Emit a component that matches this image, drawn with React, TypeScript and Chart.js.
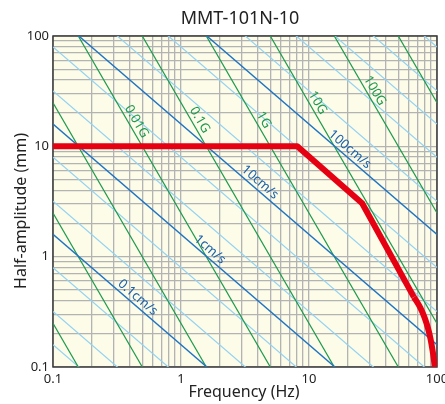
import React, { useEffect, useRef } from 'react';
import { Chart, registerables } from 'chart.js';
Chart.register(...registerables);

const chartTitle = 'MMT-101N-10';
const xAxisTitle = 'Frequency (Hz)';
const yAxisTitle = 'Half-amplitude (mm)';
const xDecades = [0.1, 1, 10, 100];
const yDecades = [0.1, 1, 10, 100];
const xTickLabels = ['0.1', '1', '10', '100'];
const yTickLabels = ['0.1', '1', '10', '100'];
const gridSteps = [1, 2, 3, 4, 5, 6, 7, 8, 9];

// acceleration lines (G) and velocity lines (cm/s)
const accelLinesG = [0.00001, 0.0001, 0.001, 0.01, 0.1, 1, 10, 100, 1000];
const velocityMainCm = [0.1, 1, 10, 100];
const velocityMinorCm = [0.01, 0.02, 0.05, 0.2, 0.5, 2, 5, 20, 50, 200, 500, 1000, 2000, 5000];

// performance limit curve: straight part, then rounded tail
const limitFreq = [0.1, 8.1, 26, 66];
const limitAmp = [10, 10, 3.05, 0.43];
const tailFreq = [66, 74, 80, 85, 89, 92, 94.3, 96];
const tailAmp = [0.43, 0.345, 0.28, 0.225, 0.18, 0.145, 0.12, 0.1];

// labels on the lines
const accelLabelText = ['0.01G', '0.1G', '1G', '10G', '100G'];
const accelLabelG = [0.01, 0.1, 1, 10, 100];
const accelLabelFreq = [0.4, 1.245, 3.94, 10.4, 29];
const velLabelText = ['100cm/s', '10cm/s', '1cm/s', '0.1cm/s'];
const velLabelV = [100, 10, 1, 0.1];
const velLabelFreq = [19.1, 3.79, 1.54, 0.42];

const G0 = 9806.65; // mm/s^2
const ampFromAccel = (g: number, f: number) => (g * G0) / (4 * Math.PI * Math.PI * f * f);
const ampFromVel = (v: number, f: number) => (v * 10) / (2 * Math.PI * f);

const FMIN = 0.1;
const FMAX = 100;

const GREEN = '#1d9a4c';
const DARKBLUE = '#1f73c2';
const LIGHTBLUE = '#93d2f2';
const LABELBLUE = '#1a62ad';
const GRID = '#b3b3b3';
const BG = '#fdfce9';
const RED = '#e50012';
const FONT = "'Noto Sans', 'Open Sans', sans-serif";

const gridValues = (decades: number[]) => {
  const out: number[] = [];
  decades.forEach((d, i) => {
    if (i === decades.length - 1) out.push(d);
    else gridSteps.forEach((s) => out.push(+(d * s).toPrecision(6)));
  });
  return out;
};

function lineDataset(fn: (f: number) => number, color: string, width: number, order: number) {
  return {
    type: 'line' as const,
    data: [
      { x: FMIN, y: fn(FMIN) },
      { x: FMAX, y: fn(FMAX) },
    ],
    borderColor: color,
    borderWidth: width,
    pointRadius: 0,
    tension: 0,
    clip: 0,
    order,
  };
}

const decoPlugin = {
  id: 'deco',
  beforeDraw(chart: any) {
    const { ctx, chartArea: a } = chart;
    ctx.save();
    ctx.fillStyle = BG;
    ctx.fillRect(a.left, a.top, a.right - a.left, a.bottom - a.top);
    ctx.restore();
  },
  beforeDatasetsDraw(chart: any) {
    const { ctx, chartArea: a } = chart;
    ctx.save();
    ctx.strokeStyle = '#3a3a3a';
    ctx.lineWidth = 1.5;
    ctx.strokeRect(a.left, a.top, a.right - a.left, a.bottom - a.top);
    ctx.restore();
  },
  afterDatasetsDraw(chart: any) {
    const { ctx, scales } = chart;
    const xs = scales.x;
    const ys = scales.y;
    const drawLabel = (text: string, fn: (f: number) => number, f: number, color: string) => {
      const px = xs.getPixelForValue(f);
      const py = ys.getPixelForValue(fn(f));
      const px2 = xs.getPixelForValue(f * 1.2);
      const py2 = ys.getPixelForValue(fn(f * 1.2));
      const ang = Math.atan2(py2 - py, px2 - px);
      ctx.save();
      ctx.translate(px, py);
      ctx.rotate(ang);
      ctx.fillStyle = color;
      ctx.font = `13px ${FONT}`;
      ctx.textAlign = 'center';
      ctx.textBaseline = 'middle';
      ctx.fillText(text, 0, -7.5);
      ctx.restore();
    };
    accelLabelText.forEach((t, i) =>
      drawLabel(t, (f) => ampFromAccel(accelLabelG[i], f), accelLabelFreq[i], GREEN)
    );
    velLabelText.forEach((t, i) =>
      drawLabel(t, (f) => ampFromVel(velLabelV[i], f), velLabelFreq[i], LABELBLUE)
    );

    ctx.save();
    ctx.fillStyle = '#222';
    ctx.textAlign = 'center';
    ctx.textBaseline = 'middle';
    ctx.font = `18px ${FONT}`;
    ctx.fillText(chartTitle, 240, 19);
    ctx.font = `16px ${FONT}`;
    ctx.fillText(xAxisTitle, 244, 392);
    ctx.translate(21, 211);
    ctx.rotate(-Math.PI / 2);
    ctx.fillText(yAxisTitle, 0, 0);
    ctx.restore();
  },
};

export default function App() {
  const ref = useRef<HTMLCanvasElement | null>(null);
  useEffect(() => {
    document.body.style.margin = '0';
    const canvas = ref.current;
    if (!canvas) return;
    const datasets: any[] = [];
    velocityMinorCm.forEach((v) => datasets.push(lineDataset((f) => ampFromVel(v, f), LIGHTBLUE, 1.2, 4)));
    accelLinesG.forEach((g) => datasets.push(lineDataset((f) => ampFromAccel(g, f), GREEN, 1.2, 3)));
    velocityMainCm.forEach((v) => datasets.push(lineDataset((f) => ampFromVel(v, f), DARKBLUE, 1.4, 2)));
    datasets.push({
      type: 'line',
      data: limitFreq.map((f, i) => ({ x: f, y: limitAmp[i] })),
      borderColor: RED,
      borderWidth: 6,
      pointRadius: 0,
      tension: 0,
      borderJoinStyle: 'round',
      clip: 0,
      order: 0,
    });
    datasets.push({
      type: 'line',
      data: tailFreq.map((f, i) => ({ x: f, y: tailAmp[i] })),
      borderColor: RED,
      borderWidth: 6,
      pointRadius: 0,
      cubicInterpolationMode: 'monotone',
      borderJoinStyle: 'round',
      clip: 0,
      order: 0,
    });

    const xGrid = gridValues(xDecades);
    const yGrid = gridValues(yDecades);

    const chart = new Chart(canvas, {
      type: 'line',
      data: { datasets },
      plugins: [decoPlugin],
      options: {
        animation: false,
        responsive: false,
        devicePixelRatio: 1,
        layout: { padding: { top: 36, right: 8, left: 0, bottom: 0 } },
        plugins: { legend: { display: false }, tooltip: { enabled: false }, title: { display: false } },
        scales: {
          x: {
            type: 'logarithmic',
            min: FMIN,
            max: FMAX,
            afterBuildTicks: (s: any) => {
              s.ticks = xGrid.map((v) => ({ value: v }));
            },
            afterFit: (s: any) => {
              s.height = 37;
              s.paddingLeft = 0;
              s.paddingRight = 0;
            },
            grid: { color: GRID, lineWidth: 1.3, drawTicks: false },
            border: { display: false },
            ticks: {
              autoSkip: false,
              maxRotation: 0,
              padding: 4,
              color: '#222',
              font: { family: FONT, size: 13 },
              callback: (v: any) => {
                const i = xDecades.findIndex((d) => Math.abs(d - v) < d * 1e-6);
                return i >= 0 ? xTickLabels[i] : '';
              },
            },
          },
          y: {
            type: 'logarithmic',
            min: 0.1,
            max: 100,
            afterBuildTicks: (s: any) => {
              s.ticks = yGrid.map((v) => ({ value: v }));
            },
            afterFit: (s: any) => {
              s.width = 53;
              s.paddingTop = 0;
              s.paddingBottom = 0;
            },
            grid: { color: GRID, lineWidth: 1.3, drawTicks: false },
            border: { display: false },
            ticks: {
              autoSkip: false,
              padding: 4,
              color: '#222',
              font: { family: FONT, size: 13 },
              callback: (v: any) => {
                const i = yDecades.findIndex((d) => Math.abs(d - v) < d * 1e-6);
                return i >= 0 ? yTickLabels[i] : '';
              },
            },
          },
        },
      },
    } as any);
    return () => chart.destroy();
  }, []);
  return (
    <div style={{ width: 445, height: 404, position: 'relative' }}>
      <canvas ref={ref} width={445} height={404} style={{ width: 445, height: 404, display: 'block' }} />
    </div>
  );
}
